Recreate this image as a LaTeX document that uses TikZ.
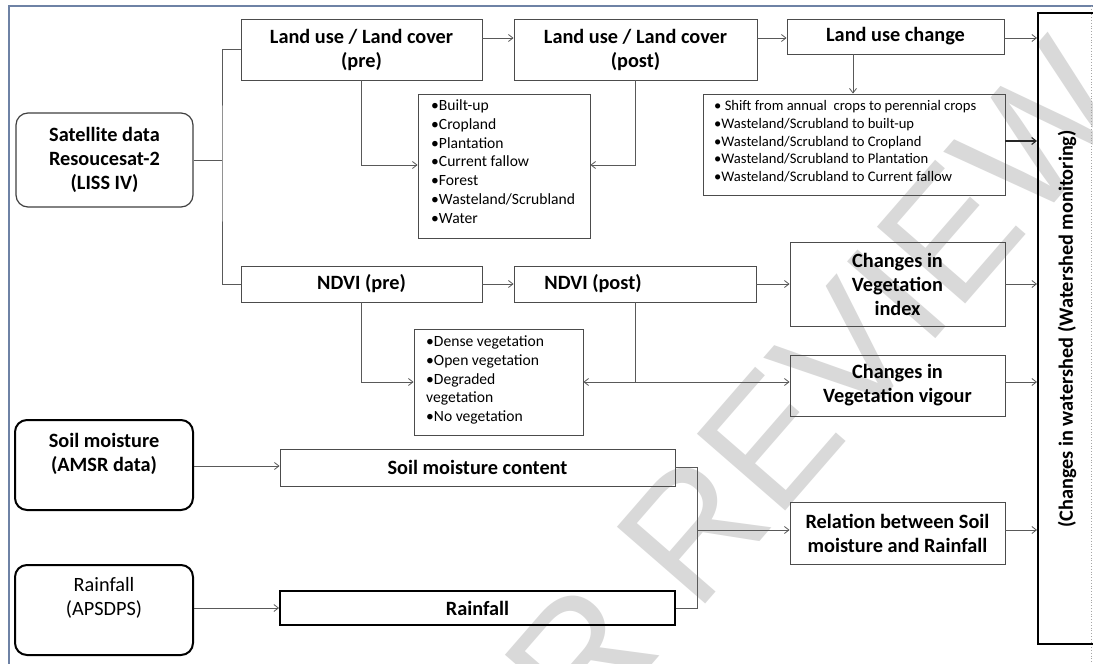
\documentclass[tikz,border=0pt]{standalone}
\usepackage{fontspec}
\setmainfont{Carlito}
\newfontfamily\wmfont{Liberation Sans}
\usetikzlibrary{arrows.meta}
\definecolor{framecol}{RGB}{110,130,165}
\begin{document}
\begin{tikzpicture}[x=1pt,y=-1pt,
  bx/.style={draw=black!70, line width=0.9pt, inner sep=0pt},
  thk/.style={draw=black, line width=2pt, inner sep=0pt},
  lbl/.style={font=\bfseries\fontsize{20.3}{24}\selectfont, align=center},
  lblr/.style={font=\fontsize{20.3}{24}\selectfont, align=center},
  lst/.style={font=\fontsize{15.6}{18.8}\selectfont, align=left, inner sep=0pt, anchor=north west},
  lsts/.style={font=\fontsize{14.6}{17.6}\selectfont, align=left, inner sep=0pt, anchor=north west},
  con/.style={draw=black!65, line width=0.8pt},
  tip/.tip={Straight Barb[length=4.5pt,width=7pt]},
  arr/.style={con, -tip},
]
\useasboundingbox (0,0) rectangle (1093,664);
\fill[white] (0,0) rectangle (1093,664);
\clip (0,0) rectangle (1093,664);

% watermark
\node[font=\wmfont\fontsize{170}{170}\selectfont, text=black!15, rotate=49] (wm) at (705,515) {PEER REVIEW};

% page frame
\draw[framecol, line width=1.8pt] (9,664) -- (9,6) -- (1093,6);
\draw[black!35, dotted, line width=0.8pt] (1091.5,6) -- (1091.5,664);

% row helpers
\coordinate (r38) at (0,38);
\coordinate (r141) at (0,141);
\coordinate (r165) at (0,165);
\coordinate (r466) at (0,466);
\coordinate (x853) at (853,0);
\coordinate (br) at (222,160);
\coordinate (j) at (697,530);

% nodes
\node[bx, draw=black!75, line width=1.2pt, rounded corners=12pt, minimum width=177, minimum height=94, lbl] (sat) at (104.5,160) {Satellite data\\Resoucesat-2\\(LISS IV)};
\node[bx, minimum width=241, minimum height=61, lbl] (lpre) at (361.5,49.5) {Land use / Land cover\\(pre)};
\node[bx, minimum width=243, minimum height=61, lbl] (lpost) at (635.5,49.5) {Land use / Land cover\\(post)};
\node[bx, minimum width=217, minimum height=35, lbl] (luc) at (895.5,36.5) {Land use change};
\node[bx, minimum width=172, minimum height=144] (lcl) at (504,166) {};
\node[lst] (lclt) at (431,99.5) {•Built-up\\•Cropland\\•Plantation\\•Current fallow\\•Forest\\•Wasteland/Scrubland\\•Water};
\node[bx, minimum width=302, minimum height=101] (chl) at (854,144.5) {};
\node[lsts] (chlt) at (714,100.5) {• Shift from annual\ \ crops to perennial crops\\•Wasteland/Scrubland to built-up\\•Wasteland/Scrubland to Cropland\\•Wasteland/Scrubland to Plantation\\•Wasteland/Scrubland to Current fallow};
\node[thk, minimum width=60, minimum height=631] (ws) at (1068,328.5) {};
\node[lbl, rotate=90] (wst) at (1067,329) {(Changes in watershed (Watershed monitoring)};

\node[bx, minimum width=241, minimum height=36, lbl] (npre) at (361.5,284) {NDVI (pre)};
\node[bx, minimum width=242, minimum height=36] (npost) at (635,284) {};
\node[lbl] (npostt) at (593,284) {NDVI (post)};
\node[bx, minimum width=215, minimum height=84, lbl] (vi) at (897.5,284) {Changes in\\Vegetation\\index};
\node[bx, minimum width=169, minimum height=106] (nl) at (498.5,382) {};
\node[lst] (nlt) at (426,335.5) {•Dense vegetation\\•Open vegetation\\•Degraded\\vegetation\\•No vegetation};
\node[bx, minimum width=215, minimum height=61, lbl] (vv) at (897.5,385.5) {Changes in\\Vegetation vigour};

\node[bx, minimum width=395, minimum height=37, lbl] (smc) at (477.5,467.5) {Soil moisture content};
\node[bx, minimum width=215, minimum height=62, lbl] (rel) at (897.5,533) {Relation between Soil\\moisture and Rainfall};
\node[thk, rounded corners=12pt, minimum width=178, minimum height=90] (amsr) at (104,465) {};
\node[lbl] (amsrt) at (104,453.5) {Soil moisture\\(AMSR data)};
\node[thk, rounded corners=12pt, minimum width=178, minimum height=90] (aps) at (104,610) {};
\node[lblr] (apst) at (104,598) {Rainfall\\(APSDPS)};
\node[thk, minimum width=395, minimum height=34, lbl] (rain) at (477.5,608) {Rainfall};

% connectors
\draw[con] (sat.east) -- (br);
\draw[con] (lpre.west) -| (br) |- (npre.west);
\draw[arr] (lpre.east |- r38) -- (lpost.west |- r38);
\draw[arr] (lpost.east |- r38) -- (luc.west |- r38);
\draw[arr] (luc.east |- r38) -- (ws.west |- r38);
\draw[arr] (lpre.south) |- (lcl.west |- r165);
\draw[arr] (lpost.south) |- (lcl.east |- r165);
\draw[arr] (luc.south -| x853) -- (chl.north -| x853);
\draw[arr, draw=black!85, line width=1.1pt] (chl.east |- r141) -- (ws.west |- r141);
\draw[arr] (npre.east) -- (npost.west);
\draw[arr] (npost.east) -- (vi.west);
\draw[arr] (vi.east) -- (ws.west |- vi.east);
\draw[arr] (npre.south) |- (nl.west);
\draw[con] (npost.south) -- (npost.south |- nl.east);
\draw[con, tip-tip] (nl.east) -- (vv.west |- nl.east);
\draw[arr] (vv.east |- nl.east) -- (ws.west |- nl.east);
\draw[arr] (amsr.east |- r466) -- (smc.west |- r466);
\draw[arr] (aps.east |- rain.west) -- (rain.west);
\draw[con] (smc.east) -| (j);
\draw[con] (rain.east) -| (j);
\draw[arr] (j) -- (rel.west |- j);
\draw[arr] (rel.east |- j) -- (ws.west |- j);
\end{tikzpicture}
\end{document}
